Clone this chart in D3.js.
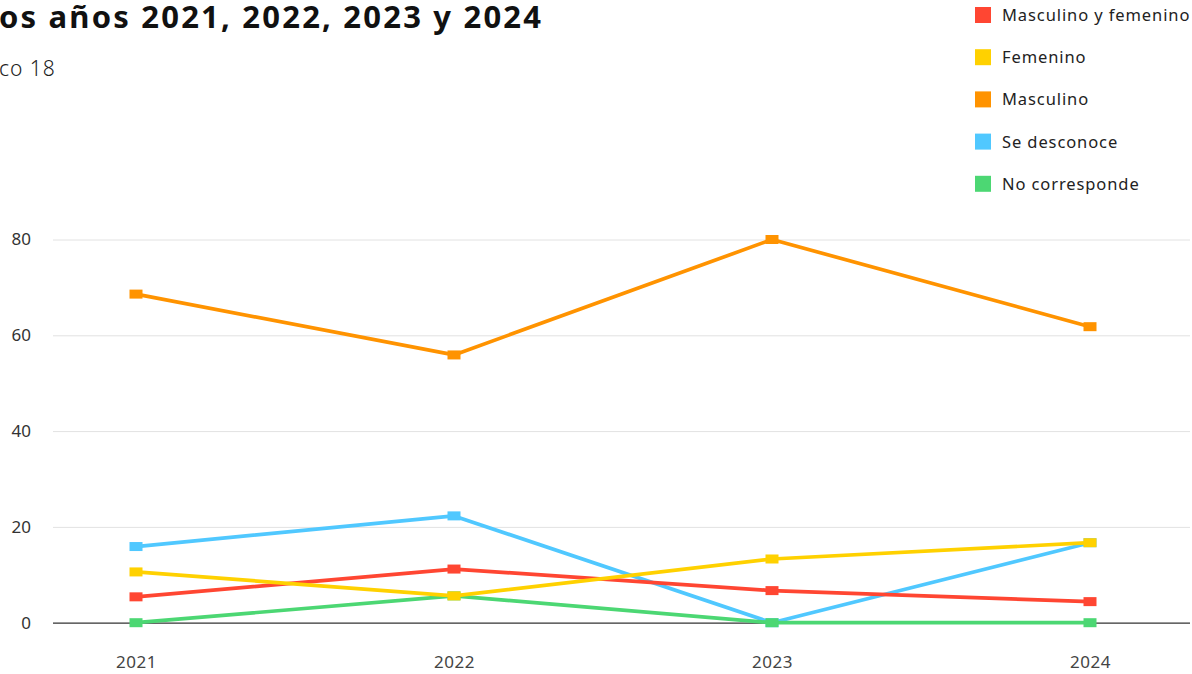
<!DOCTYPE html>
<html>
<head>
<meta charset="utf-8">
<script src="https://cdn.jsdelivr.net/npm/d3@7"></script>
<style>
  body { margin: 0; background: #fff; overflow: hidden; }
  svg { font-family: "Noto Sans", sans-serif; display: block; }
</style>
</head>
<body>
<svg></svg>
<script>
// data
let years = ['2021', '2022', '2023', '2024']
let seriesNames = ['Masculino y femenino', 'Femenino', 'Masculino', 'Se desconoce', 'No corresponde']
let seriesColors = ['#ff4632', '#ffd100', '#ff9300', '#50c8ff', '#4cd773']
let mascFem = [5.4, 11.2, 6.7, 4.4]
let femenino = [10.6, 5.6, 13.3, 16.7]
let masculino = [68.6, 55.9, 80, 61.8]
let desconoce = [15.9, 22.3, 0, 16.7]
let noCorresponde = [0, 5.6, 0, 0]
let yTicks = [0, 20, 40, 60, 80]

let seriesValues = [mascFem, femenino, masculino, desconoce, noCorresponde]
// draw order so overlaps look like the reference
let drawOrder = [3, 4, 0, 2, 1]

let width = 1192
let height = 674

let svg = d3.select('svg')
svg.attr('width', width).attr('height', height)

//title, cut off on the left like the original
svg.append('text')
    .attr('x', -1)
    .attr('y', 28)
    .attr('font-size', 31)
    .attr('font-weight', 700)
    .attr('letter-spacing', 2.2)
    .attr('fill', '#111')
    .text('os años 2021, 2022, 2023 y 2024')

svg.append('text')
    .attr('x', -1)
    .attr('y', 76)
    .attr('font-size', 21)
    .attr('font-weight', 300)
    .attr('letter-spacing', 1)
    .attr('fill', '#222')
    .text('co 18')

//scales
let xScale = d3.scalePoint()
    .domain(years)
    .range([136, 1090])

let yScale = d3.scaleLinear()
    .domain([0, 80])
    .range([622.7, 239.5])

let gridLeft = 53
let gridRight = 1190

//grid lines
let yAxis = d3.axisLeft(yScale)
    .tickValues(yTicks)
    .tickSize(-(gridRight - gridLeft))
    .tickPadding(22)

let gy = svg.append('g')
    .attr('transform', 'translate(' + gridLeft + ',0)')
    .call(yAxis)
gy.select('.domain').remove()
gy.selectAll('.tick line')
    .attr('stroke', (d) => d === 0 ? '#333' : '#e2e2e2')
    .attr('stroke-width', (d) => d === 0 ? 1.2 : 1)
gy.selectAll('.tick text')
    .attr('font-size', 17)
    .attr('fill', '#333')
    .attr('font-family', '"Noto Sans", sans-serif')

let xAxis = d3.axisBottom(xScale)
    .tickSize(0)
    .tickPadding(0)
let gx = svg.append('g')
    .attr('transform', 'translate(0,' + 656 + ')')
    .call(xAxis)
gx.select('.domain').remove()
gx.selectAll('.tick text')
    .attr('font-size', 17)
    .attr('fill', '#444')
    .attr('letter-spacing', 0.5)
    .attr('font-family', '"Noto Sans", sans-serif')

//lines and markers
let line = d3.line()
    .x((d, i) => xScale(years[i]))
    .y((d) => yScale(d))

drawOrder.forEach((s) => {
    let g = svg.append('g')
    g.append('path')
        .datum(seriesValues[s])
        .attr('d', line)
        .attr('fill', 'none')
        .attr('stroke', seriesColors[s])
        .attr('stroke-width', 3.7)
        .attr('stroke-linejoin', 'round')
    g.selectAll('rect')
        .data(seriesValues[s])
        .enter()
        .append('rect')
        .attr('x', (d, i) => xScale(years[i]) - 6.5)
        .attr('y', (d) => yScale(d) - 4.5)
        .attr('width', 13)
        .attr('height', 9)
        .attr('fill', seriesColors[s])
})

//legend
let legend = svg.append('g')
    .attr('transform', 'translate(975,0)')
let items = legend.selectAll('g')
    .data(seriesNames)
    .enter()
    .append('g')
    .attr('transform', (d, i) => 'translate(0,' + (15 + i * 42.2) + ')')
items.append('rect')
    .attr('x', 0)
    .attr('y', -8)
    .attr('width', 16)
    .attr('height', 16)
    .attr('fill', (d, i) => seriesColors[i])
items.append('text')
    .attr('x', 27)
    .attr('y', 6)
    .attr('font-size', 16.5)
    .attr('letter-spacing', 0.9)
    .attr('fill', '#222')
    .text((d) => d)
</script>
</body>
</html>
